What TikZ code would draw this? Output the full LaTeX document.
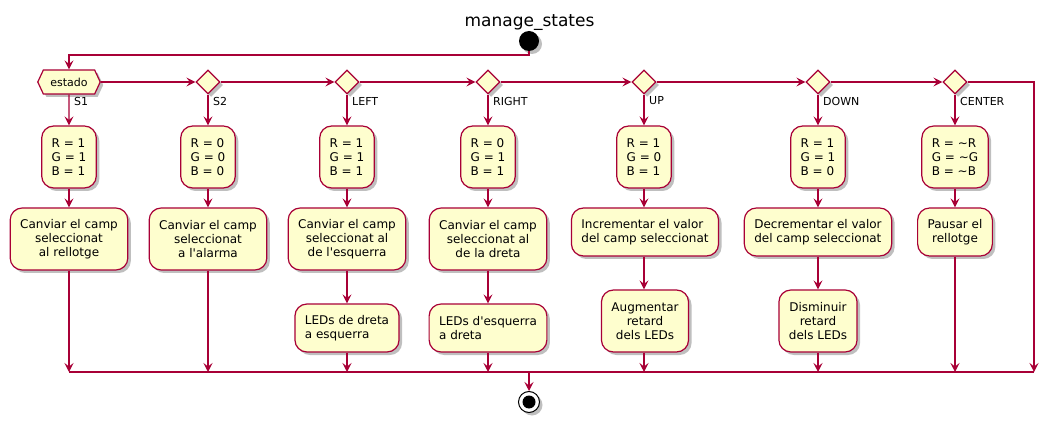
\documentclass[tikz,border=0pt]{standalone}
\usepackage{fontspec}
\setmainfont{DejaVu Sans}
\usepackage{tikz}
\usetikzlibrary{shapes,shapes.geometric,arrows.meta,shadows,positioning}

\definecolor{umlred}{HTML}{A80036}
\definecolor{umlfill}{HTML}{FEFECE}

\tikzset{
	shade box/.style={drop shadow={shadow xshift=3pt, shadow yshift=-3pt, opacity=0.25, fill=black}},
	act/.style={draw=umlred, fill=umlfill, line width=1.2pt, rounded corners=12pt, align=center, inner xsep=10pt, inner ysep=0pt, font=\fontsize{12}{14}\selectfont, shade box},
	three/.style={act, minimum height=62pt},
	two/.style={act, minimum height=48pt},
	branch/.style={shape=diamond, draw=umlred, fill=umlfill, line width=1.2pt, minimum size=24pt, inner sep=0pt, shade box},
	choice/.style={shape=signal, signal to=west and east, signal pointer angle=130, draw=umlred, fill=umlfill, line width=1.2pt, minimum height=24pt, inner xsep=7pt, inner ysep=0pt, font=\fontsize{11}{13}\selectfont, shade box},
	guard/.style={anchor=west, inner sep=0pt, font=\fontsize{11}{13}\selectfont},
	flow/.style={draw=umlred, line width=1.2pt, -{Stealth[length=9pt, width=9pt, inset=3.5pt]}},
	line/.style={draw=umlred, line width=1.2pt},
}

\begin{document}
\begin{tikzpicture}[x=1pt, y=-1pt]
	\useasboundingbox (0,0) rectangle (1058,422);

	\node[anchor=base, font=\fontsize{17}{20}\selectfont] (title) at (529.5,27) {manage\_states};
	\node[shape=circle, fill=black, minimum size=20pt, inner sep=0pt, shade box] (start) at (529,41) {};
	\coordinate (top) at (529,55);

	% decisions
	\node[choice] (estado) at (69,82) {estado};
	\node[branch] (d2) at (208,82) {};
	\node[branch] (d3) at (347,82) {};
	\node[branch] (d4) at (488,82) {};
	\node[branch] (d5) at (644,82) {};
	\node[branch] (d6) at (818,82) {};
	\node[branch] (d7) at (955,82) {};
	\coordinate (loop) at (1034,82);

	\node[guard] (lS1) at (74,101) {S1};
	\node[guard] (lS2) at (213,101) {S2};
	\node[guard] (lleft) at (352,101) {LEFT};
	\node[guard] (lright) at (493,101) {RIGHT};
	\node[guard] (lup) at (649,101) {UP};
	\node[guard] (ldown) at (823,101) {DOWN};
	\node[guard] (lcenter) at (960,101) {CENTER};

	% S1
	\node[three, align=left] (s1rgb) at (69,157) {R = 1\\G = 1\\B = 1};
	\node[three] (s1act) at (69,239) {Canviar el camp\\seleccionat\\al rellotge};
	% S2
	\node[three, align=left] (s2rgb) at (208,157) {R = 0\\G = 0\\B = 0};
	\node[three] (s2act) at (208,239) {Canviar el camp\\seleccionat\\a l\textquotesingle alarma};
	% LEFT
	\node[three, align=left] (leftrgb) at (347,157) {R = 1\\G = 1\\B = 1};
	\node[three] (leftact) at (347,239) {Canviar el camp\\seleccionat al\\de l\textquotesingle esquerra};
	\node[two, align=left] (leftled) at (347,328) {LEDs de dreta\\a esquerra};
	% RIGHT
	\node[three, align=left] (rightrgb) at (488,157) {R = 0\\G = 1\\B = 1};
	\node[three] (rightact) at (488,239) {Canviar el camp\\seleccionat al\\de la dreta};
	\node[two, align=left] (rightled) at (488,328) {LEDs d\textquotesingle esquerra\\a dreta};
	% UP
	\node[three, align=left] (uprgb) at (644,157) {R = 1\\G = 0\\B = 1};
	\node[two, align=left] (upact) at (645,232) {Incrementar el valor\\del camp seleccionat};
	\node[three] (upled) at (645,321) {Augmentar\\retard\\dels LEDs};
	% DOWN
	\node[three, align=left] (downrgb) at (818,157) {R = 1\\G = 1\\B = 0};
	\node[two, align=left] (downact) at (818,232) {Decrementar el valor\\del camp seleccionat};
	\node[three] (downled) at (818,321) {Disminuir\\retard\\dels LEDs};
	% CENTER
	\node[three, align=left] (centerrgb) at (955,157) {R = \textasciitilde R\\G = \textasciitilde G\\B = \textasciitilde B};
	\node[two] (centeract) at (955,232) {Pausar el\\rellotge};

	% merge
	\coordinate (m1) at (69,372);
	\coordinate (m2) at (208,372);
	\coordinate (m3) at (347,372);
	\coordinate (m4) at (488,372);
	\coordinate (m5) at (644,372);
	\coordinate (m6) at (818,372);
	\coordinate (m7) at (955,372);
	\coordinate (m8) at (1034,372);
	\coordinate (mc) at (529,372);
	\node[shape=circle, draw=black, line width=1pt, fill=white, minimum size=21pt, inner sep=0pt, shade box] (stop) at (529,402) {};
	\node[shape=circle, fill=black, minimum size=13pt, inner sep=0pt] (stopdot) at (stop) {};

	\path [flow] (start) -- (top) -| (estado);
	\path [flow] (estado) -- (d2);
	\path [flow] (d2) -- (d3);
	\path [flow] (d3) -- (d4);
	\path [flow] (d4) -- (d5);
	\path [flow] (d5) -- (d6);
	\path [flow] (d6) -- (d7);
	\path [flow] (d7) -- (loop) -- (m8);

	\path [flow] (estado) -- (s1rgb);
	\path [flow] (s1rgb) -- (s1act);
	\path [flow] (s1act) -- (m1);
	\path [flow] (d2) -- (s2rgb);
	\path [flow] (s2rgb) -- (s2act);
	\path [flow] (s2act) -- (m2);
	\path [flow] (d3) -- (leftrgb);
	\path [flow] (leftrgb) -- (leftact);
	\path [flow] (leftact) -- (leftled);
	\path [flow] (leftled) -- (m3);
	\path [flow] (d4) -- (rightrgb);
	\path [flow] (rightrgb) -- (rightact);
	\path [flow] (rightact) -- (rightled);
	\path [flow] (rightled) -- (m4);
	\path [flow] (d5) -- (uprgb);
	\path [flow] (uprgb) -- (upact.north -| uprgb);
	\path [flow] (upact.south -| uprgb) -- (upled.north -| uprgb);
	\path [flow] (upled.south -| uprgb) -- (m5);
	\path [flow] (d6) -- (downrgb);
	\path [flow] (downrgb) -- (downact);
	\path [flow] (downact) -- (downled);
	\path [flow] (downled) -- (m6);
	\path [flow] (d7) -- (centerrgb);
	\path [flow] (centerrgb) -- (centeract);
	\path [flow] (centeract) -- (m7);

	\path [line] (m1) -- (m8);
	\path [flow] (mc) -- (stop);
\end{tikzpicture}
\end{document}
